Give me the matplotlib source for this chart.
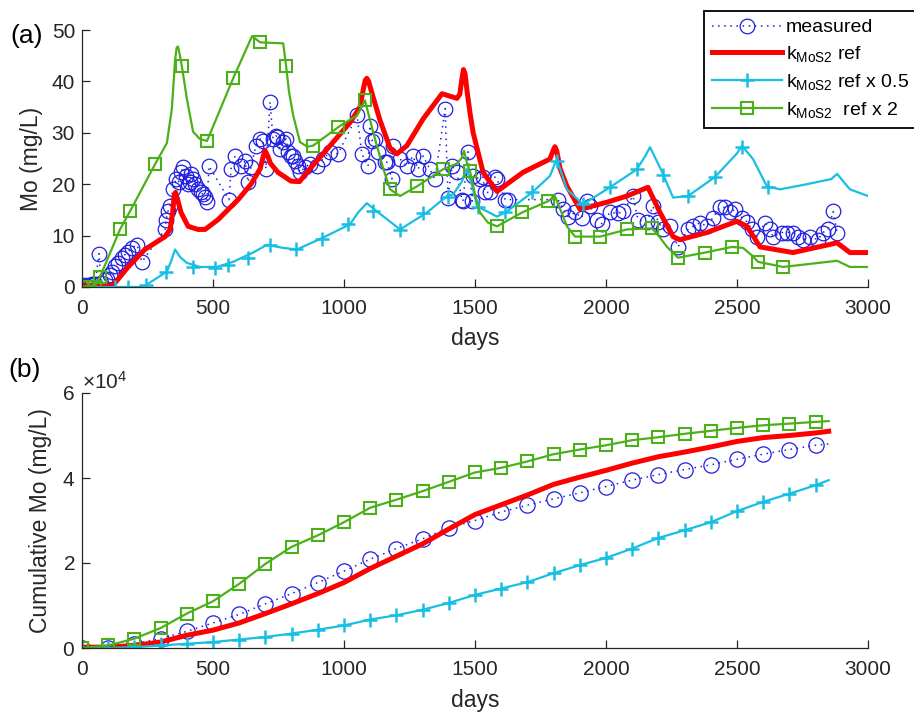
import matplotlib
matplotlib.use("Agg")
import matplotlib.pyplot as plt
import numpy as np

plt.rcParams['font.family'] = ['Liberation Sans', 'DejaVu Sans']
plt.rcParams['mathtext.fontset'] = 'custom'
plt.rcParams['mathtext.rm'] = 'Liberation Sans'
plt.rcParams['mathtext.it'] = 'Liberation Sans:italic'
plt.rcParams['mathtext.bf'] = 'Liberation Sans:bold'

# ---------------- (a) concentration data ----------------
meas_days = [0, 10, 20, 30, 40, 50, 65, 73, 88, 95, 105, 114, 126, 137, 153, 164, 176, 191, 210, 229,
             317, 321, 328, 336, 347, 359, 370, 378, 385, 397, 405, 412, 416, 424, 431, 443, 454, 462, 470, 477, 485,
             561, 569, 584, 607, 622, 634, 645, 664, 680, 691, 702, 718, 729, 741, 745, 756, 768, 779, 787, 798,
             806, 813, 824, 832, 851, 870, 897, 920, 947, 977, 1050, 1068, 1092, 1099, 1107, 1118, 1130, 1157, 1164,
             1183, 1187, 1214, 1240, 1263, 1283, 1302, 1328, 1347, 1386, 1397, 1412, 1431, 1450, 1454, 1473, 1489,
             1493, 1519, 1531, 1538, 1557, 1576, 1584, 1615, 1626,
             1817, 1836, 1855, 1882, 1908, 1927, 1939, 1966, 1985, 2015, 2046, 2065, 2103, 2122, 2157, 2179, 2199,
             2218, 2244, 2275, 2313, 2332, 2359, 2385, 2408, 2435, 2454, 2473, 2492, 2519, 2538, 2557, 2576, 2607,
             2626, 2637, 2672, 2691, 2714, 2733, 2752, 2779, 2809, 2828, 2848, 2867, 2882]
meas_mo = [0.2, 0.3, 0.2, 0.4, 0.5, 0.6, 6.5, 0.8, 1.4, 1.6, 2.4, 3.0, 4.0, 4.6, 5.6, 6.3, 6.9, 7.6, 8.2, 4.9,
           11.2, 13.1, 14.7, 15.7, 19.0, 21.0, 20.5, 22.3, 23.3, 21.6, 20.0, 20.4, 22.0, 21.0, 20.0, 19.0, 18.4, 18.0, 17.6, 16.5, 23.5,
           17.0, 23.0, 25.5, 23.5, 24.5, 20.4, 23.3, 27.5, 28.8, 28.5, 23.0, 36.0, 28.8, 29.4, 29.2, 26.9, 28.2, 28.8, 26.3, 25.5,
           25.5, 24.5, 23.5, 22.3, 23.3, 23.9, 23.5, 24.9, 26.3, 25.9, 33.4, 25.9, 23.5, 31.4, 28.5, 28.8, 26.3, 24.3, 24.3,
           21.0, 27.5, 24.9, 23.5, 25.5, 22.9, 25.5, 22.9, 21.0, 34.7, 17.4, 23.5, 22.3, 17.0, 16.7, 26.3, 16.7,
           21.6, 21.0, 21.4, 18.4, 18.4, 21.4, 21.0, 17.0, 17.0,
           17.0, 15.1, 13.7, 14.5, 13.5, 16.7, 15.7, 13.1, 12.3, 14.5, 14.3, 14.7, 17.7, 13.1, 12.7, 15.7, 12.7,
           11.2, 11.8, 7.8, 11.2, 11.8, 12.5, 11.8, 13.5, 15.5, 15.5, 14.5, 15.1, 13.5, 12.7, 11.2, 9.8, 12.5,
           11.2, 9.8, 10.6, 10.6, 10.6, 9.8, 9.2, 9.8, 9.2, 10.6, 11.2, 14.7, 10.6]

ref_days = [0, 118, 176, 240, 317, 336, 346, 352, 357, 365, 378, 405, 443, 470, 519, 596, 645, 680, 692, 699,
            708, 720, 748, 798, 830, 870, 947, 1023, 1061, 1072, 1081, 1087, 1094, 1105, 1137, 1176, 1202, 1240,
            1302, 1374, 1431, 1442, 1450, 1456, 1462, 1470, 1482, 1493, 1531, 1584, 1683, 1786, 1798, 1805, 1812,
            1825, 1851, 1901, 2004, 2080, 2160, 2206, 2256, 2282, 2385, 2500, 2538, 2588, 2714, 2882, 2931, 3000]
ref_mo = [0.3, 0.3, 3.9, 7.3, 9.8, 11.2, 14.5, 17.8, 18.4, 17.0, 14.5, 11.8, 11.2, 11.2, 13.1, 17.0, 20.0, 23.0, 25.5, 26.5,
          25.6, 24.0, 22.3, 20.6, 20.5, 23.0, 27.5, 32.0, 35.0, 38.0, 40.2, 40.6, 40.0, 38.0, 32.5, 27.0, 25.9, 27.5,
          32.7, 37.6, 36.7, 37.5, 40.5, 42.3, 41.5, 38.0, 33.5, 30.0, 22.3, 18.6, 22.3, 24.9, 26.5, 27.3, 26.5,
          23.0, 19.6, 15.1, 16.5, 17.7, 19.4, 14.5, 9.8, 9.2, 10.6, 12.8, 11.8, 7.8, 6.7, 8.6, 6.7, 6.7]

half_days = [0, 233, 324, 340, 355, 375, 400, 450, 515, 577, 653, 706, 768, 820, 920, 1023, 1054, 1087, 1126,
             1214, 1317, 1393, 1416, 1450, 1468, 1490, 1508, 1584, 1622, 1718, 1786, 1812, 1851, 1912, 2015, 2118,
             2150, 2168, 2213, 2256, 2313, 2416, 2500, 2519, 2561, 2614, 2664, 2767, 2860, 2882, 2931, 3000]
half_mo = [0, 0, 3.0, 5.0, 7.3, 5.8, 4.7, 3.9, 3.9, 4.9, 6.7, 8.2, 7.6, 7.3, 9.6, 12.2, 14.5, 16.3, 14.7,
           11.2, 14.5, 17.7, 18.0, 20.5, 23.0, 19.5, 15.7, 13.7, 14.7, 18.4, 21.6, 24.9, 19.0, 16.1, 19.4, 22.9,
           25.5, 27.2, 22.5, 17.4, 17.7, 21.4, 26.0, 27.5, 24.9, 19.6, 19.0, 20.0, 21.0, 22.0, 19.0, 17.7]
half_mk_days = [126, 176, 244, 321, 424, 508, 557, 634, 718, 817, 916, 1015, 1111, 1214, 1302, 1397, 1510,
                1615, 1718, 1812, 1912, 2015, 2118, 2217, 2313, 2416, 2519, 2618]
half_mk_mo = [0, 0, 0.3, 3.0, 3.9, 3.7, 4.3, 5.7, 8.2, 7.3, 9.4, 12.2, 14.8, 11.0, 14.3, 17.6, 15.5,
              14.5, 18.4, 24.5, 16.1, 19.4, 22.9, 21.8, 17.7, 21.4, 27.3, 19.5]

dbl_days = [0, 50, 69, 145, 183, 279, 324, 343, 355, 361, 366, 372, 381, 400, 424, 450, 477, 577, 649, 680, 768, 779,
            790, 806, 832, 860, 882, 978, 1050, 1080, 1111, 1150, 1176, 1214, 1279, 1378, 1430, 1448, 1458, 1470,
            1481, 1500, 1519, 1550, 1584, 1680, 1779, 1805, 1830, 1851, 1882, 1977, 2080, 2176, 2200, 2233, 2275,
            2378, 2481, 2523, 2560, 2580, 2676, 2882, 2931, 3000]
dbl_mo = [0, 0.3, 2.0, 11.2, 14.7, 23.9, 28.0, 34.7, 44.0, 46.5, 46.8, 45.5, 43.0, 36.7, 30.2, 28.8, 28.4, 40.6, 48.8, 47.6, 47.4, 43.0,
          38.0, 33.4, 28.2, 27.3, 27.5, 31.1, 33.4, 36.3, 30.2, 23.0, 19.0, 17.7, 19.6, 22.9, 24.0, 25.0, 26.5, 24.0,
          22.5, 18.0, 14.5, 12.5, 11.8, 14.5, 16.7, 17.7, 14.5, 11.8, 9.8, 9.8, 11.2, 11.4, 10.0, 7.8, 5.7,
          6.7, 7.8, 7.6, 6.0, 4.9, 3.9, 5.1, 3.9, 3.9]
dbl_mk_days = [0, 19, 50, 69, 145, 183, 279, 381, 477, 577, 680, 779, 882, 978, 1080, 1176, 1279, 1378, 1481,
               1584, 1680, 1779, 1882, 1977, 2080, 2176, 2275, 2378, 2481, 2580, 2676]
dbl_mk_mo = [0, 0, 0, 2.0, 11.2, 14.7, 23.9, 43.0, 28.4, 40.6, 47.6, 43.0, 27.5, 31.1, 36.3, 19.0, 19.6, 22.9, 22.5,
             11.8, 14.5, 16.7, 9.8, 9.8, 11.2, 11.4, 5.7, 6.7, 7.8, 4.9, 3.9]

# ---------------- (b) cumulative data ----------------
cum_days = [0, 100, 200, 300, 400, 500, 600, 700, 800, 900, 1000, 1100, 1200, 1300, 1400, 1500, 1600, 1700,
            1800, 1900, 2000, 2100, 2200, 2300, 2400, 2500, 2600, 2700, 2800, 2850]
cum_meas = [0, 0.0, 0.1, 0.22, 0.39, 0.59, 0.79, 1.04, 1.28, 1.54, 1.81, 2.09, 2.34, 2.57, 2.83, 3.0, 3.2, 3.36,
            3.51, 3.65, 3.8, 3.95, 4.08, 4.2, 4.31, 4.44, 4.56, 4.67, 4.77, 4.8]
cum_ref = [0.02, 0.02, 0.06, 0.14, 0.3, 0.42, 0.59, 0.81, 1.04, 1.28, 1.54, 1.87, 2.16, 2.45, 2.8, 3.14, 3.37, 3.6,
           3.85, 4.02, 4.18, 4.35, 4.5, 4.61, 4.73, 4.86, 4.95, 5.0, 5.06, 5.1]
cum_half = [0, 0, 0.02, 0.06, 0.1, 0.14, 0.2, 0.26, 0.34, 0.43, 0.53, 0.67, 0.77, 0.9, 1.06, 1.25, 1.4, 1.55,
            1.76, 1.95, 2.12, 2.34, 2.59, 2.77, 2.96, 3.22, 3.44, 3.63, 3.83, 3.95]
cum_dbl = [0, 0.06, 0.22, 0.47, 0.81, 1.1, 1.51, 1.98, 2.38, 2.65, 2.96, 3.30, 3.49, 3.69, 3.91, 4.13, 4.24, 4.39,
           4.56, 4.67, 4.77, 4.89, 4.96, 5.04, 5.11, 5.18, 5.24, 5.28, 5.32, 5.34]

labels = ['measured', r'k$_{\mathrm{MoS2}}$ ref', r'k$_{\mathrm{MoS2}}$ ref x 0.5', r'k$_{\mathrm{MoS2}}$  ref x 2']

C_BLUE = '#1f1fe0'
C_RED = '#ff0000'
C_CYAN = '#17bfe3'
C_GREEN = '#4cb01a'
C_AX = '#262626'
FS_TICK = 15
FS_LAB = 16.5
FS_LEG = 14

fig = plt.figure(figsize=(9.14, 7.14), dpi=100)
ax1 = fig.add_axes([82/914, 1-287/714, 786/914, 257/714])
ax2 = fig.add_axes([82/914, 1-648/714, 786/914, 255/714])

dot = (0, (1, 3))

# panel (a)
ax1.plot(meas_days, meas_mo, linestyle=dot, color=C_BLUE, lw=1.1, marker='o', ms=10.5,
         mfc='none', mec=C_BLUE, mew=0.9)
ax1.plot(ref_days, ref_mo, color=C_RED, lw=3.6, solid_joinstyle='round')
ax1.plot(half_days, half_mo, color=C_CYAN, lw=1.6)
ax1.plot(half_mk_days, half_mk_mo, linestyle='none', marker='+', ms=10, mew=1.8, color=C_CYAN)
ax1.plot(dbl_days, dbl_mo, color=C_GREEN, lw=1.6)
ax1.plot(dbl_mk_days, dbl_mk_mo, linestyle='none', marker='s', ms=8, mew=1.5, mfc='none', mec=C_GREEN)

ax1.set_xlim(0, 3000)
ax1.set_ylim(0, 50)
ax1.set_xticks(np.arange(0, 3001, 500))
ax1.set_yticks(np.arange(0, 51, 10))
ax1.set_xlabel('days', fontsize=FS_LAB, color=C_AX)
ax1.set_ylabel('Mo (mg/L)', fontsize=FS_LAB, color=C_AX)
ax1.xaxis.set_label_coords(0.5, -0.155)
ax1.yaxis.set_label_coords(-0.05, 0.5)

# legend handles
h_meas, = ax1.plot([], [], linestyle=dot, color=C_BLUE, lw=1.1, marker='o', ms=10.5, mfc='none', mec=C_BLUE, mew=0.9)
h_ref, = ax1.plot([], [], color=C_RED, lw=3.6)
h_half, = ax1.plot([], [], color=C_CYAN, lw=1.6, marker='+', ms=10, mew=1.8)
h_dbl, = ax1.plot([], [], color=C_GREEN, lw=1.6, marker='s', ms=8, mew=1.5, mfc='none', mec=C_GREEN)
leg = ax1.legend([h_meas, h_ref, h_half, h_dbl], labels, loc='upper left',
                 bbox_to_anchor=(704/914, 1-11/714), bbox_transform=fig.transFigure,
                 borderaxespad=0, fontsize=FS_LEG, handlelength=3.6, handletextpad=0.2,
                 labelspacing=0.4, borderpad=0.4, fancybox=False, framealpha=1,
                 edgecolor='black', numpoints=1)
leg.get_frame().set_linewidth(1.3)

# panel (b)
ax2.plot(cum_days, np.array(cum_meas)*1e4, linestyle=dot, color=C_BLUE, lw=1.1, marker='o', ms=11,
         mfc='none', mec=C_BLUE, mew=0.9, markevery=slice(0, 29))
ax2.plot(cum_days, np.array(cum_ref)*1e4, color=C_RED, lw=3.6)
ax2.plot(cum_days, np.array(cum_half)*1e4, color=C_CYAN, lw=1.6, marker='+', ms=10, mew=1.8,
         markevery=slice(0, 29))
ax2.plot(cum_days, np.array(cum_dbl)*1e4, color=C_GREEN, lw=1.6, marker='s', ms=8, mew=1.5,
         mfc='none', mec=C_GREEN, markevery=slice(0, 29))
ax2.set_xlim(0, 3000)
ax2.set_ylim(0, 6e4)
ax2.set_xticks(np.arange(0, 3001, 500))
ax2.set_yticks([0, 2e4, 4e4, 6e4])
ax2.ticklabel_format(axis='y', style='sci', scilimits=(0, 0), useMathText=True)
ax2.set_xlabel('days', fontsize=FS_LAB, color=C_AX)
ax2.set_ylabel('Cumulative Mo (mg/L)', fontsize=FS_LAB, color=C_AX)
ax2.xaxis.set_label_coords(0.5, -0.16)
ax2.yaxis.set_label_coords(-0.038, 0.5)
ax2.yaxis.get_offset_text().set_fontsize(FS_TICK)
ax2.yaxis.get_offset_text().set_color(C_AX)

for ax in (ax1, ax2):
    for s in ('top', 'right'):
        ax.spines[s].set_visible(False)
    for s in ('left', 'bottom'):
        ax.spines[s].set_color(C_AX)
        ax.spines[s].set_linewidth(0.9)
    ax.tick_params(direction='in', length=5.5, width=0.9, colors=C_AX, labelsize=FS_TICK)
    ax.tick_params(axis='x', pad=8.5)
    ax.tick_params(axis='y', pad=5)

fig.text(10/914, 1-36/714, '(a)', fontsize=19, ha='left', va='center', color='black')
fig.text(8/914, 1-370/714, '(b)', fontsize=19, ha='left', va='center', color='black')

fig.savefig('out.png', dpi=100)
